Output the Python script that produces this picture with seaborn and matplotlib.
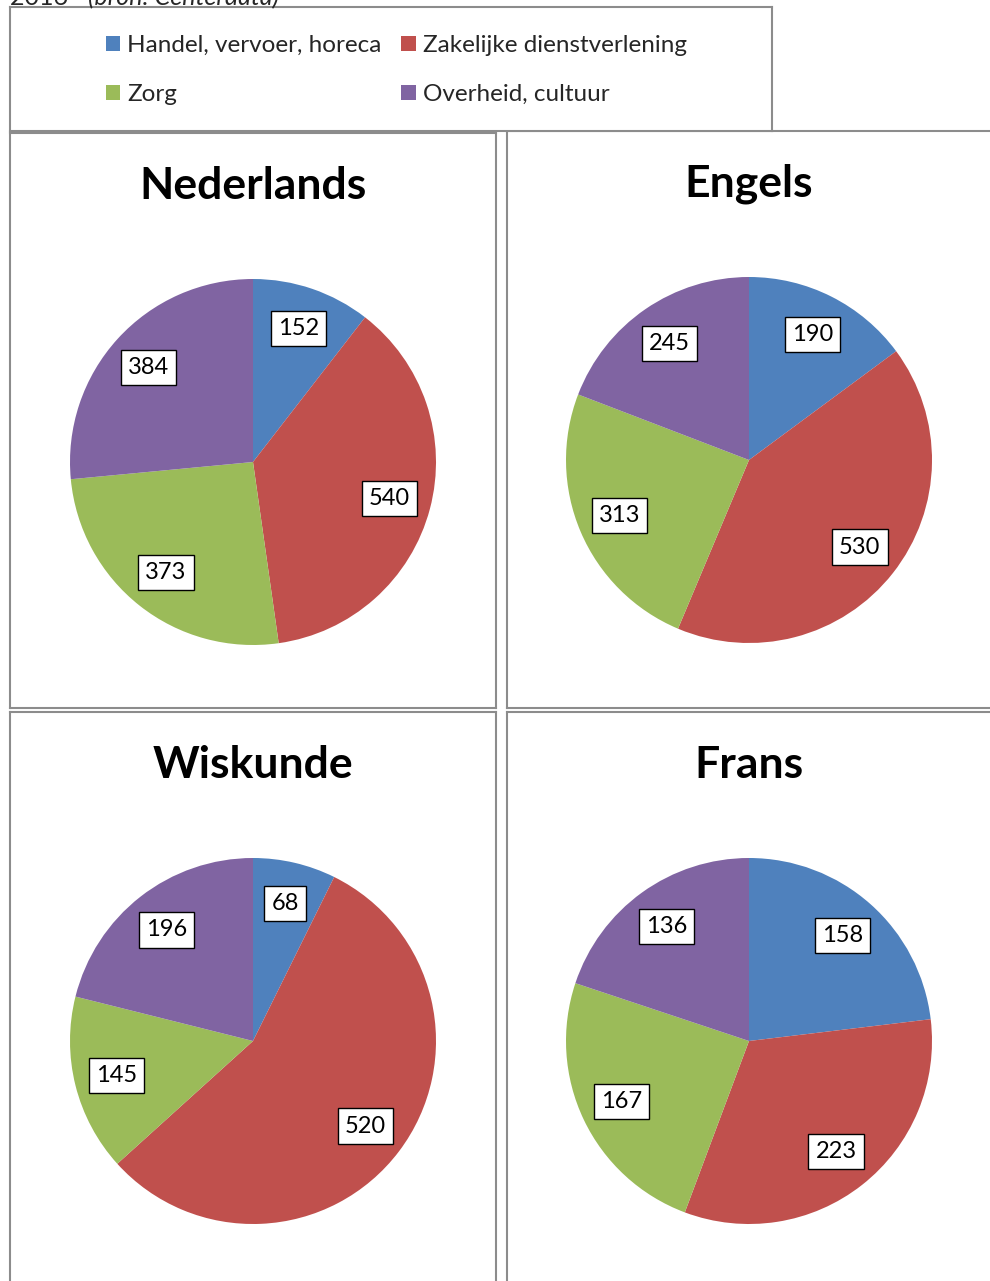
import matplotlib
matplotlib.use('Agg')
import matplotlib.pyplot as plt
import seaborn as sns

# Data
sectors = ['Handel, vervoer, horeca', 'Zakelijke dienstverlening', 'Zorg', 'Overheid, cultuur']
subjects = ['Nederlands', 'Engels', 'Wiskunde', 'Frans']
nederlands = [152, 540, 373, 384]
engels = [190, 530, 313, 245]
wiskunde = [68, 520, 145, 196]
frans = [158, 223, 167, 136]
values = [nederlands, engels, wiskunde, frans]
colors = ['#4F81BD', '#C0504D', '#9BBB59', '#8064A2']

sns.set_theme(style='white')
plt.rcParams['font.family'] = ['Lato', 'DejaVu Sans']

W, H = 990, 1281
fig = plt.figure(figsize=(W / 100, H / 100), dpi=100)

def px_axes(x0, y0, x1, y1):
    return fig.add_axes([x0 / W, 1 - y1 / H, (x1 - x0) / W, (y1 - y0) / H])

border = '#8c8c8c'
R = 183.0

# panel boxes (pixels): x0, y0, x1, y1, pie centre offset x
panels = [
    (10, 133, 496, 708, 243),
    (507, 131, 1000, 708, 242),
    (10, 712, 496, 1295, 243),
    (507, 712, 1000, 1295, 242),
]

wedges = None
for (x0, y0, x1, y1, cx), name, vals in zip(panels, subjects, values):
    ax = px_axes(x0, y0, x1, y1)
    total = sum(vals)
    w, _, autotexts = ax.pie(
        vals, colors=colors, startangle=90, counterclock=False,
        autopct=lambda p, t=total: f'{round(p * t / 100):d}',
        pctdistance=0.77,
        wedgeprops=dict(linewidth=0),
        textprops=dict(fontsize=17, color='black'),
    )
    if wedges is None:
        wedges = w
    for t in autotexts:
        t.set_bbox(dict(boxstyle='square,pad=0.3', facecolor='white',
                        edgecolor='black', linewidth=1))
    ax.set_frame_on(True)
    for s in ax.spines.values():
        s.set_visible(True)
        s.set_color(border)
        s.set_linewidth(1.5)
    cy = 329
    ax.set_xlim(-cx / R, (x1 - x0 - cx) / R)
    ax.set_ylim(-(y1 - y0 - cy) / R, cy / R)
    ax.set_aspect('auto')
    ax.text(0, (cy - 53) / R, name, ha='center', va='center',
            fontsize=32, fontweight='bold', color='black')

# legend box
lax = px_axes(10, 7, 772, 131)
lax.set_xticks([])
lax.set_yticks([])
for s in lax.spines.values():
    s.set_color(border)
    s.set_linewidth(1.5)
# row-wise order: Handel, Zakelijke / Zorg, Overheid
order = [0, 2, 1, 3]
lax.legend([wedges[i] for i in order], [sectors[i] for i in order],
           loc='center', ncol=2, frameon=False,
           fontsize=17.5, handlelength=0.6, handleheight=0.6,
           handletextpad=0.3, columnspacing=0.8, labelspacing=1.15,
           bbox_to_anchor=(0.507, 0.49))

# cut-off caption at the very top
fig.text(10 / W, 1 - 5 / H, '2016 ', fontsize=18, va='baseline', ha='left')
fig.text(88 / W, 1 - 5 / H, '(bron: Centerdata)', fontsize=18,
         va='baseline', ha='left', style='italic')

fig.savefig('out.png', dpi=100)
